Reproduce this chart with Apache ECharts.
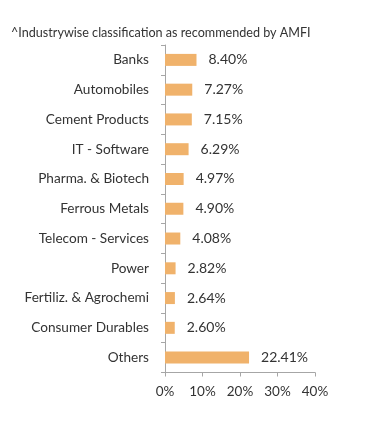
<!DOCTYPE html>
<html><head><meta charset="utf-8">
<script src="https://cdn.jsdelivr.net/npm/echarts@6/dist/echarts.min.js"></script>
<style>html,body{margin:0;padding:0;background:#fff}#c{width:391px;height:426px}</style>
</head><body><div id="c"></div>
<script>
const categories = ["Banks","Automobiles","Cement Products","IT - Software","Pharma. & Biotech","Ferrous Metals","Telecom - Services","Power","Fertiliz. & Agrochemi","Consumer Durables","Others"];
const values = [8.40,7.27,7.15,6.29,4.97,4.90,4.08,2.82,2.64,2.60,22.41];
const xTicks = [0,10,20,30,40];
const titleText = "^Industrywise classification as recommended by AMFI";

const chart = echarts.init(document.getElementById('c'), null, {renderer:'canvas'});
const font = 'Lato, "Open Sans", sans-serif';
chart.setOption({
  animation:false,
  title:{text:titleText,left:6,top:21,textStyle:{fontFamily:font,fontSize:12.6,fontWeight:'normal',color:'#333'}},
  grid:{left:165,right:76,top:45,bottom:53.5,containLabel:false},
  xAxis:{type:'value',min:xTicks[0],max:xTicks[xTicks.length-1],interval:10,
    axisLine:{show:true,lineStyle:{color:'#a6a6a6',width:1}},
    axisTick:{show:true,length:4,lineStyle:{color:'#a6a6a6'}},
    splitLine:{show:false},
    axisLabel:{margin:12,fontFamily:font,fontSize:13.5,color:'#333',formatter:v=>v+'%'}},
  yAxis:{type:'category',data:categories,inverse:true,
    axisLine:{show:true,lineStyle:{color:'#a6a6a6',width:1}},
    axisTick:{show:true,length:4,lineStyle:{color:'#a6a6a6'}},
    axisLabel:{margin:16,fontFamily:font,fontSize:13.6,color:'#333'}},
  series:[{type:'bar',data:values,barWidth:12,
    itemStyle:{color:'#F0B26B'},
    label:{show:true,position:'right',distance:12,fontFamily:font,fontSize:14,color:'#333',formatter:p=>p.value.toFixed(2)+'%'}}]
});
</script></body></html>
